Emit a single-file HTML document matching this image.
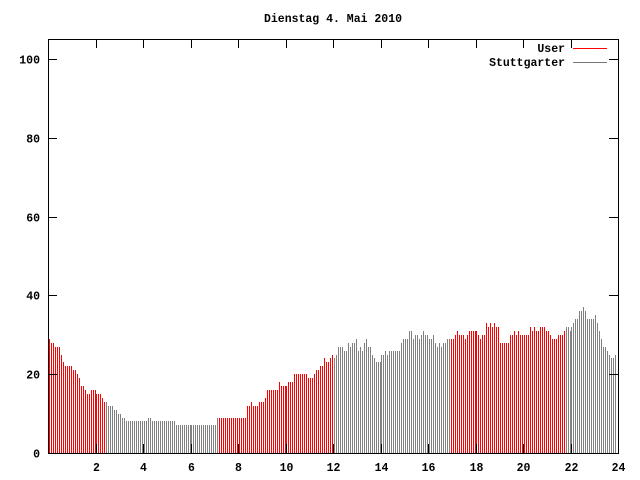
<!DOCTYPE html>
<html><head><meta charset="utf-8"><style>
html,body{margin:0;padding:0;background:#fff}
svg{display:block}
text{font-family:"Liberation Mono",monospace;font-size:11.5px;font-weight:bold;fill:#000}
</style></head><body>
<svg id="chart" width="640" height="480">
<text x="333" y="22" text-anchor="middle">Dienstag 4. Mai 2010</text>
<g id="bars" shape-rendering="crispEdges"></g>
<g id="axes" shape-rendering="crispEdges"></g>
<g>
<text x="565" y="52" text-anchor="end">User</text>
<line x1="573" y1="48.5" x2="607" y2="48.5" stroke="#f00"/>
<text x="565" y="66" text-anchor="end">Stuttgarter</text>
<line x1="573" y1="62.5" x2="607" y2="62.5" stroke="#777"/>
</g>
</svg>
<script>
const values = [
29,28,28,27,27,27,25,23,22,22,22,22,
21,21,20,19,17,17,16,15,15,16,16,16,
15,15,15,14,13,13,12,12,12,11,11,10,
10,9,9,8,8,8,8,8,8,8,8,8,
8,8,9,9,8,8,8,8,8,8,8,8,
8,8,8,8,7,7,7,7,7,7,7,7,
7,7,7,7,7,7,7,7,7,7,7,7,
7,9,9,9,9,9,9,9,9,9,9,9,
9,9,9,9,
12,12,13,12,12,12,13,13,13,14,16,16,16,16,16,16,18,17,17,17,17,18,18,18,20,20,20,20,20,20,20,19,19,19,20,21,21,22,22,24,23,23,24,25,24,25,27,27,
27,26,26,28,27,28,28,29,26,27,26,28,29,27,27,25,24,23,23,23,25,25,26,25,26,26,26,26,26,26,28,29,29,29,31,31,29,30,30,29,30,31,30,30,29,29,30,28,27,
28,27,28,28,29,29,29,29,30,31,30,30,30,29,30,31,31,31,31,31,30,29,30,30,33,32,33,32,33,32,32,28,28,28,28,28,30,30,31,30,31,30,30,30,30,30,32,31,
32,31,31,32,32,32,31,31,30,29,29,29,30,30,30,31,32,32,31,32,33,34,34,36,36,37,36,34,34,34,34,35,33,31,29,27,27,26,25,24,24,25
];
const userStartIdx = [0, 86, 203];
const userEndIdx = [29, 144, 261];
const yTicks = [0,20,40,60,80,100];
const xTicks = [2,4,6,8,10,12,14,16,18,20,22,24];
const X0=48,X1=618,Y0=453,Y1=39,YMAX=105.1;
const xs = t => X0 + t*(X1-X0)/24;
const ys = v => Y0 - v*(Y0-Y1)/YMAX;
const NS="http://www.w3.org/2000/svg";
const bars=document.getElementById('bars');
for (let i=0;i<values.length;i++){
  const v=values[i];
  const t=i/12+1/24;
  let user=false;
  for(let k=0;k<3;k++){ if(i>=userStartIdx[k] && i<userEndIdx[k]) user=true; }
  const r=document.createElementNS(NS,'rect');
  const x=Math.round(xs(t));
  const top=Math.round(ys(v));
  r.setAttribute('x',x);
  r.setAttribute('y',top);
  r.setAttribute('width',1);
  r.setAttribute('height',Y0-top);
  r.setAttribute('fill',user?'#ff0000':'#808080');
  
  
  bars.appendChild(r);
}
const axes=document.getElementById('axes');
function add(tag,attrs,txt){const e=document.createElementNS(NS,tag);for(const k in attrs)e.setAttribute(k,attrs[k]);if(txt!==undefined)e.textContent=txt;axes.appendChild(e);return e;}
const frame=add('rect',{x:X0+0.5,y:Y1+0.5,width:X1-X0,height:Y0-Y1,fill:'none',stroke:'#000'});


yTicks.forEach(v=>{
  const y=Math.round(ys(v))+0.5;
  const a=add('line',{x1:X0,x2:X0+9,y1:y,y2:y,stroke:'#000'});
  
  
  const b=add('line',{x1:X1-9,x2:X1,y1:y,y2:y,stroke:'#000'});
  
  
  const t=add('text',{x:X0-8,y:y+4,'text-anchor':'end'},String(v));
  
  
});
xTicks.forEach(h=>{
  const x=Math.round(xs(h))+0.5;
  const a=add('line',{x1:x,x2:x,y1:Y0,y2:Y0-9,stroke:'#000'});
  
  
  const b=add('line',{x1:x,x2:x,y1:Y1,y2:Y1+9,stroke:'#000'});
  
  
  const t=add('text',{x:x,y:471,'text-anchor':'middle'},String(h));
  
  
});
</script>
</body></html>
